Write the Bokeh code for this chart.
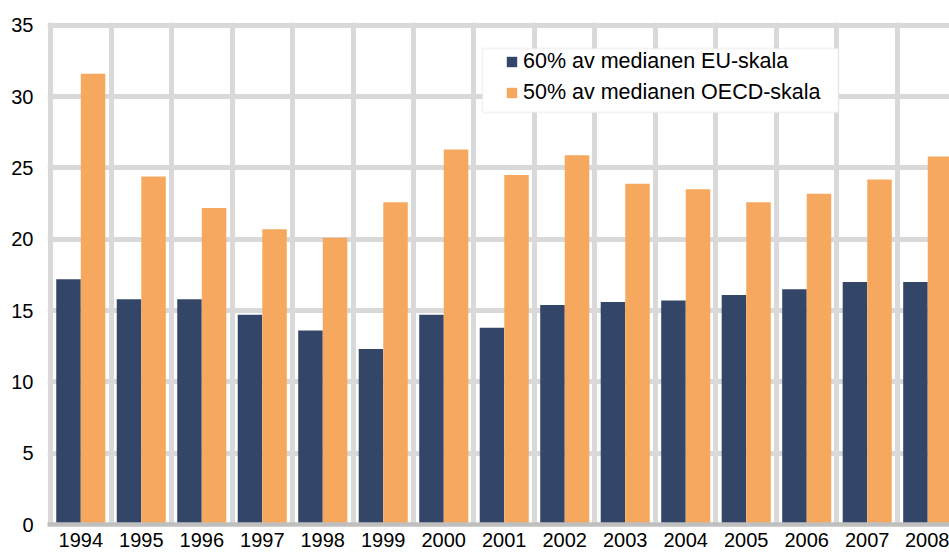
from bokeh.plotting import figure
from bokeh.models import (ColumnDataSource, Range1d, FixedTicker, Legend, LegendItem,
                          BoxAnnotation)
from bokeh.transform import dodge
from bokeh.embed import file_html
from bokeh.resources import INLINE

years = ["1994", "1995", "1996", "1997", "1998", "1999", "2000", "2001",
         "2002", "2003", "2004", "2005", "2006", "2007", "2008"]
eu60 = [17.2, 15.8, 15.8, 14.7, 13.6, 12.3, 14.7, 13.8, 15.4, 15.6, 15.7, 16.1, 16.5, 17.0, 17.0]
oecd50 = [31.6, 24.4, 22.2, 20.7, 20.1, 22.6, 26.3, 24.5, 25.9, 23.9, 23.5, 22.6, 23.2, 24.2, 25.8]
y_ticks = [0, 5, 10, 15, 20, 25, 30, 35]

FONT = "Liberation Sans"
DARK = "#344668"
ORANGE = "#F6A95E"
GRID = "#d9d9d9"

idx = list(range(len(years)))
src = ColumnDataSource(dict(x=idx, eu=eu60, oecd=oecd50))

p = figure(width=949, height=555, output_backend="svg", toolbar_location=None,
           x_range=Range1d(-0.55, 14.36), y_range=Range1d(0, 35.2),
           min_border_left=47, min_border_right=0, min_border_top=22, min_border_bottom=31)
p.outline_line_color = None
p.background_fill_color = "white"

r1 = p.vbar(x=dodge("x", -0.203, range=p.x_range), top="eu", width=0.405, bottom=0,
            source=src, fill_color=DARK, line_color=None)
r2 = p.vbar(x=dodge("x", 0.203, range=p.x_range), top="oecd", width=0.405, bottom=0,
            source=src, fill_color=ORANGE, line_color=None)

# grids
p.xgrid.ticker = FixedTicker(ticks=[i - 0.5 for i in range(len(years) + 1)])
p.xgrid.grid_line_color = GRID
p.xgrid.grid_line_width = 5
p.ygrid.ticker = FixedTicker(ticks=y_ticks)
p.ygrid.grid_line_color = GRID
p.ygrid.grid_line_width = 5

# x axis
p.xaxis.ticker = FixedTicker(ticks=idx)
p.xaxis.major_label_overrides = {i: y for i, y in zip(idx, years)}
p.xaxis.major_tick_in = 0
p.xaxis.major_tick_out = 0
p.xaxis.minor_tick_line_color = None
p.xaxis.axis_line_color = "#bfbfbf"
p.xaxis.axis_line_width = 4.5
p.xaxis.major_label_standoff = 8
p.xaxis.major_label_text_font = FONT
p.xaxis.major_label_text_font_size = "20px"
p.xaxis.major_label_text_color = "#000000"

# y axis
p.yaxis.ticker = FixedTicker(ticks=y_ticks)
p.yaxis.major_tick_in = 0
p.yaxis.major_tick_out = 0
p.yaxis.minor_tick_line_color = None
p.yaxis.axis_line_color = None
p.yaxis.major_label_standoff = 14
p.yaxis.major_label_text_font = FONT
p.yaxis.major_label_text_font_size = "20px"
p.yaxis.major_label_text_color = "#000000"

# legend frame
box = BoxAnnotation(left=482, right=838, top=48, bottom=112,
                    left_units="canvas", right_units="canvas",
                    top_units="canvas", bottom_units="canvas",
                    fill_color="white", fill_alpha=1.0,
                    line_color=GRID, line_width=2)
p.add_layout(box)

legend = Legend(items=[LegendItem(label="60% av medianen EU-skala", renderers=[r1]),
                       LegendItem(label="50% av medianen OECD-skala", renderers=[r2])],
                location=(458, 419), padding=0, spacing=6,
                glyph_width=13, glyph_height=13, label_standoff=5, label_height=24,
                border_line_color=None, background_fill_alpha=0,
                label_text_font=FONT, label_text_font_size="21.5px",
                label_text_color="#000000")
p.add_layout(legend, "center")

open("out.html", "w").write(file_html(p, INLINE))
